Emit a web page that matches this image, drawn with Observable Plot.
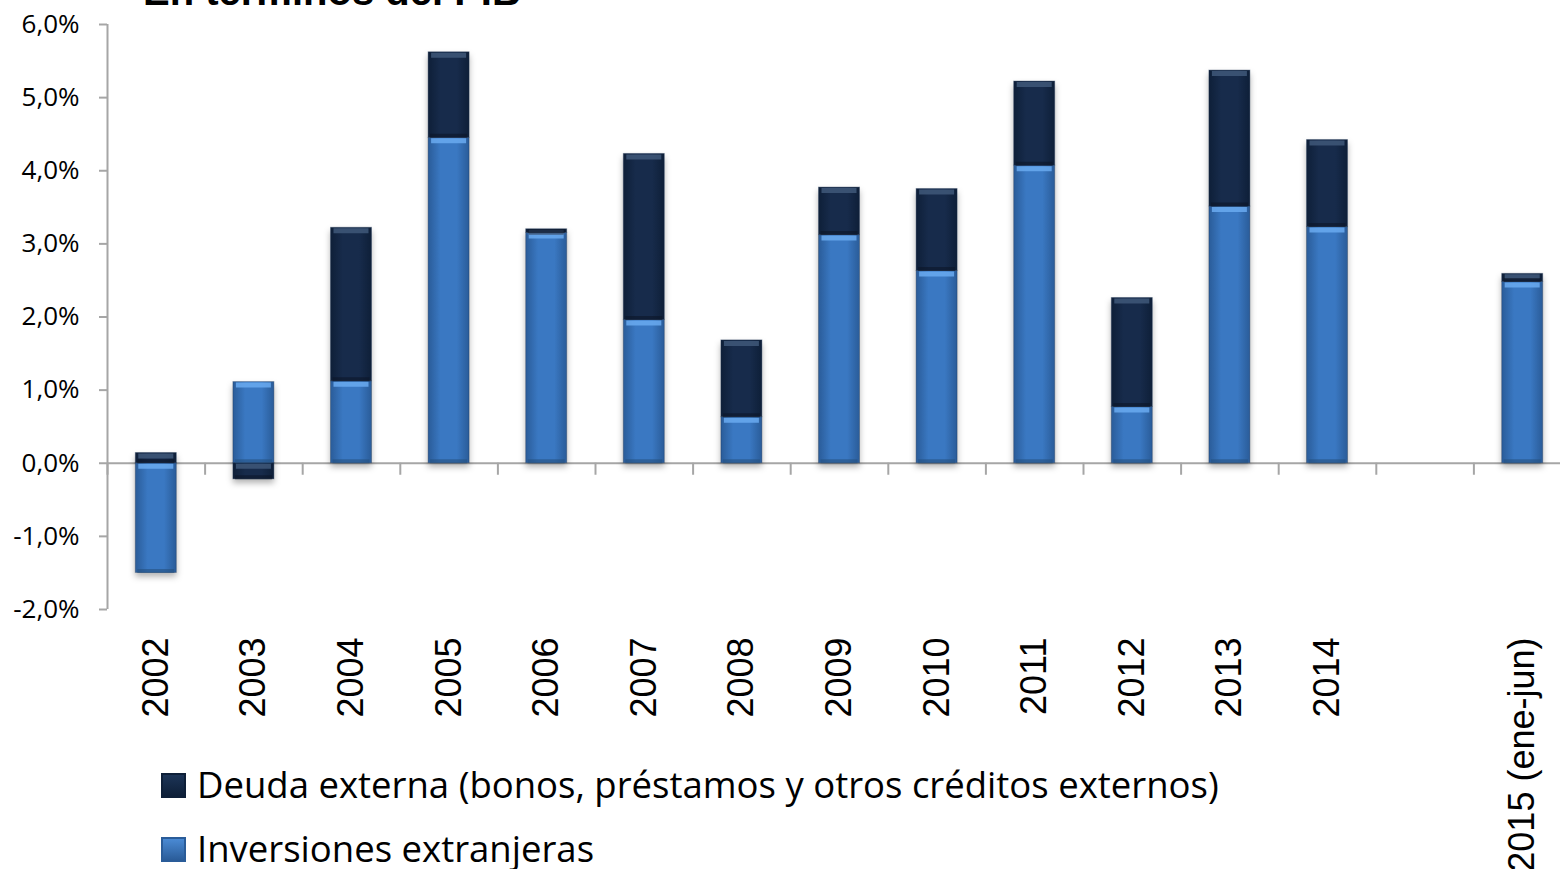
<!DOCTYPE html>
<html><head><meta charset="utf-8">
<script src="https://cdn.jsdelivr.net/npm/d3@7"></script>
<script src="https://cdn.jsdelivr.net/npm/@observablehq/plot@0.6"></script>
<style>
html,body{margin:0;padding:0;background:#fff;overflow:hidden;width:1560px;height:869px;}
#wrap{position:relative;width:1560px;height:869px;overflow:hidden;}
#chart{position:absolute;left:0;top:0;width:1600px;}
#chart svg{max-width:none !important;}
#title{position:absolute;left:143px;top:-29px;font:bold 40px "Liberation Sans";line-height:40px;white-space:nowrap;color:#000;}
.legtext{position:absolute;left:197px;font:36.5px "Open Sans";line-height:36px;white-space:nowrap;color:#000;}
.sw{position:absolute;left:161px;width:25px;height:25px;box-sizing:border-box;}
</style></head><body>
<div id="wrap">
<div id="chart"></div>
<div id="title">En términos del PIB</div>
<div id="legend"></div>
</div>
<script>
// ---- data ----
const categories = ["2002","2003","2004","2005","2006","2007","2008","2009","2010","2011","2012","2013","2014"," ","2015 (ene-jun)"];
const inversiones = [-1.50, 1.11, 1.12, 4.45, 3.15, 1.96, 0.63, 3.12, 2.63, 4.07, 0.77, 3.51, 3.23, null, 2.48];
const deuda       = [ 0.14,-0.22, 2.10, 1.17, 0.05, 2.27, 1.05, 0.65, 1.12, 1.15, 1.49, 1.86, 1.19, null, 0.11];
const seriesNames = ["Deuda externa (bonos, préstamos y otros créditos externos)", "Inversiones extranjeras"];
const yTicks = [-2, -1, 0, 1, 2, 3, 4, 5, 6];
const title = "En términos del PIB";

// ---- stacking (Inversiones bottom, Deuda on top) ----
const seriesValues = [inversiones, deuda];
const seriesOrder = [seriesNames[1], seriesNames[0]];
const rows = [];
categories.forEach((cat, i) => {
  let pos = 0, neg = 0;
  seriesValues.forEach((vals, s) => {
    const v = vals[i];
    if (v == null) return;
    let y1, y2;
    if (v >= 0) { y1 = pos; y2 = pos + v; pos = y2; }
    else { y1 = neg; y2 = neg + v; neg = y2; }
    rows.push({cat, series: seriesOrder[s], value: v, y1, y2, top: Math.max(y1, y2), bottom: Math.min(y1, y2)});
  });
});

const W = 1575, H = 875, mL = 107, mR = 4, mT = 24, mB = 266;
const step = (W - mL - mR) / categories.length;
const axisGray = "#a6a6a6";
const hiColor = {[seriesNames[1]]: "#6aaaf0", [seriesNames[0]]: "#3f5879"};
const loColor = {[seriesNames[1]]: "#24507f", [seriesNames[0]]: "#0b1628"};

const plot = Plot.plot({
  width: W, height: H,
  marginLeft: mL, marginRight: mR, marginTop: mT, marginBottom: mB,
  style: {background: "transparent", fontFamily: "Liberation Sans", overflow: "visible"},
  x: {domain: categories, paddingInner: 0.58, paddingOuter: 0.29, round: false, label: null},
  y: {domain: [-2, 6], label: null},
  color: {domain: seriesNames, range: ["url(#gDeu)", "url(#gInv)"]},
  marks: [
    Plot.ruleY([0], {stroke: axisGray, strokeWidth: 2}),
    Plot.ruleX(categories, {x: d => d, dx: -step / 2, y1: 0, y2: 0, insetBottom: -12, stroke: axisGray, strokeWidth: 2}),
    Plot.ruleX([categories[0]], {x: d => d, dx: -step / 2, y1: -2, y2: 6, stroke: axisGray, strokeWidth: 2}),
    Plot.barY(rows, {x: "cat", y1: "y1", y2: "y2", fill: "series", stroke: "#1c3352", strokeOpacity: 0.35, strokeWidth: 1}),
    Plot.tickY(rows, {x: "cat", y: "top", stroke: d => hiColor[d.series], strokeWidth: 5, dy: 3, insetLeft: 3, insetRight: 3, strokeOpacity: 0.85}),
    Plot.tickY(rows, {x: "cat", y: "bottom", stroke: d => loColor[d.series], strokeWidth: 4, dy: -2, insetLeft: 2, insetRight: 2, strokeOpacity: 0.6}),
    Plot.axisY({ticks: yTicks, tickFormat: d => d.toFixed(1).replace(".", ",") + "%", tickSize: 8, tickPadding: 20,
      fontSize: 26, fontFamily: "Open Sans", stroke: axisGray, strokeWidth: 2, fill: "#000", label: null}),
    Plot.axisX({tickRotate: -90, tickSize: 0, tickPadding: 28, fontSize: 36, fontFamily: "Liberation Sans", fill: "#000", label: null})
  ]
});

const svg = d3.select(plot);
const defs = svg.insert("defs", ":first-child");
function grad(id, edge, mid) {
  const g = defs.append("linearGradient").attr("id", id).attr("x1", 0).attr("x2", 1).attr("y1", 0).attr("y2", 0);
  g.append("stop").attr("offset", "0%").attr("stop-color", edge);
  g.append("stop").attr("offset", "30%").attr("stop-color", mid);
  g.append("stop").attr("offset", "70%").attr("stop-color", mid);
  g.append("stop").attr("offset", "100%").attr("stop-color", edge);
}
grad("gInv", "#2a5c99", "#3a78c2");
grad("gDeu", "#0e1f38", "#172b4b");
svg.selectAll('g[aria-label="bar"]').style("filter", "drop-shadow(0px 4px 3px rgba(0,0,0,0.3))");
plot.style.maxWidth = "none";
plot.style.width = W + "px";
plot.style.height = H + "px";
document.getElementById("chart").appendChild(plot);
document.getElementById("title").textContent = title;

// legend
const legend = document.getElementById("legend");
const swGrad = {[seriesNames[0]]: ["#0e1f38", "#1c3456"], [seriesNames[1]]: ["#2a5c99", "#4a8ad4"]};
const legTops = [773, 837];
seriesNames.forEach((name, i) => {
  const sw = document.createElement("div");
  sw.className = "sw";
  sw.style.top = legTops[i] + "px";
  const [a, b] = swGrad[name];
  sw.style.background = `linear-gradient(to bottom, ${b}, ${a})`;
  sw.style.border = `2px solid ${a}`;
  legend.appendChild(sw);
  const t = document.createElement("div");
  t.className = "legtext";
  t.style.top = (legTops[i] - 7) + "px";
  t.textContent = name;
  legend.appendChild(t);
});
</script></body></html>
